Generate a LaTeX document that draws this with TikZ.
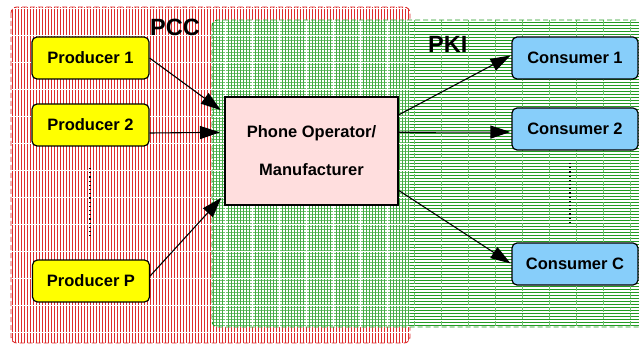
\documentclass[tikz,border=0pt]{standalone}
\usepackage{fontspec}
\setmainfont{Liberation Sans}
\usetikzlibrary{calc,arrows.meta}
\definecolor{pccred}{RGB}{222,45,45}
\definecolor{pkigreen}{RGB}{35,155,35}
\definecolor{pkilight}{RGB}{110,195,110}
\definecolor{prodyellow}{RGB}{255,255,0}
\definecolor{consblue}{RGB}{135,206,250}
\definecolor{phpink}{RGB}{255,222,222}
\tikzset{
  prodbox/.style={draw=black,line width=1.2pt,rounded corners=5pt,fill=prodyellow,
    minimum width=117pt,minimum height=42pt,inner sep=0pt,font=\bfseries\fontsize{16.5}{19}\selectfont},
  consbox/.style={prodbox,fill=consblue,minimum width=126pt},
  phonebox/.style={draw=black,line width=2pt,fill=phpink,minimum width=173pt,minimum height=108pt,
    inner sep=0pt,align=center,font=\bfseries\fontsize{16.5}{38}\selectfont},
  regionlabel/.style={font=\bfseries\fontsize{23.5}{26}\selectfont,inner sep=0pt,anchor=base west},
  arr/.style={line width=1.1pt,-{Triangle[length=20pt,width=13pt]}},
  dots/.style={black,line width=1.1pt,dash pattern=on 1.2pt off 3pt}
}
\begin{document}
\begin{tikzpicture}[x=1pt,y=-1pt]
\useasboundingbox (0,0) rectangle (639,347);
% PCC region
\path[fill=white,rounded corners=6pt] (11,7) rectangle (410,343);
\begin{scope}
  \clip[rounded corners=6pt] (11,7) rectangle (410,343);
  \foreach \x in {12.5,15.5,...,411} \draw[pccred,line width=1pt] (\x,7) -- (\x,343);
  \foreach \y in {8.5,35.5,...,343} \draw[white,line width=1pt] (11,\y) -- (410,\y);
\end{scope}
\draw[pccred,line width=0.9pt,dash pattern=on 5pt off 3pt,rounded corners=6pt] (11,7) rectangle (410,343);
% PKI region
\path[fill=white,rounded corners=6pt] (212,20) rectangle (660,327);
\begin{scope}
  \clip[rounded corners=6pt] (212,20) rectangle (660,327);
  \foreach \y in {22.5,25.5,...,327} \draw[pkigreen,line width=1pt] (212,\y) -- (660,\y);
  \foreach \x in {414.5,441.5,...,660} \draw[pkilight,line width=0.8pt,dash pattern=on 5pt off 2pt] (\x,20) -- (\x,327);
\end{scope}
% overlap
\begin{scope}
  \clip[rounded corners=6pt] (212,20) rectangle (410,327);
  \fill[white] (212,20) rectangle (410,327);
  \foreach \y in {22.5,25.5,...,327} \draw[pkilight,line width=1pt] (212,\y) -- (410,\y);
  \foreach \x in {213.5,216.5,...,410} \draw[pkigreen!85,line width=0.8pt] (\x,20) -- (\x,327);
  \foreach \y in {8.5,35.5,...,343} \draw[white,line width=1pt] (212,\y) -- (410,\y);
  \foreach \x in {225.5,252.5,...,410} \draw[white,line width=1pt] (\x,20) -- (\x,327);
\end{scope}
\draw[pkigreen,line width=0.9pt,dash pattern=on 5pt off 3pt,rounded corners=6pt] (212,20) rectangle (660,327);
% labels
\node[regionlabel] (pcc) at (150,36) {PCC};
\node[regionlabel] (pki) at (428,53) {PKI};
% nodes
\node[prodbox] (p1) at (90.5,58) {Producer 1};
\node[prodbox] (p2) at (90.5,125) {Producer 2};
\node[prodbox] (pp) at (91,281) {Producer P};
\node[phonebox] (ph) at (311.5,151) {Phone Operator/\\Manufacturer};
\node[consbox] (c1) at (575,58) {Consumer 1};
\node[consbox] (c2) at (575,129) {Consumer 2};
\node[consbox] (cc) at (575,264) {Consumer C};
% dotted continuation marks
\draw[dots] (90,168) -- (90,239);
\draw[dots] (570,163) -- (570,223);
% connectors
\draw[arr,shorten >=4pt] (p1.east) -- ($(ph.north west)!0.15!(ph.south west)$);
\draw[arr,shorten >=4pt] ($(p2.east)+(0,8)$) -- ($(ph.north west)!0.33!(ph.south west)$);
\draw[arr,shorten >=4pt] ($(pp.east)+(0,-5)$) -- ($(ph.north west)!0.9!(ph.south west)$);
\draw[arr,shorten >=1pt] ($(ph.north east)!0.17!(ph.south east)$) -- ($(c1.west)+(0,-3)$);
\draw[arr,shorten >=1pt] ($(ph.north east)!0.33!(ph.south east)$) -- ($(c2.west)+(0,3)$);
\draw[arr,shorten >=1pt] ($(ph.north east)!0.86!(ph.south east)$) -- (cc.west);
\end{tikzpicture}
\end{document}
